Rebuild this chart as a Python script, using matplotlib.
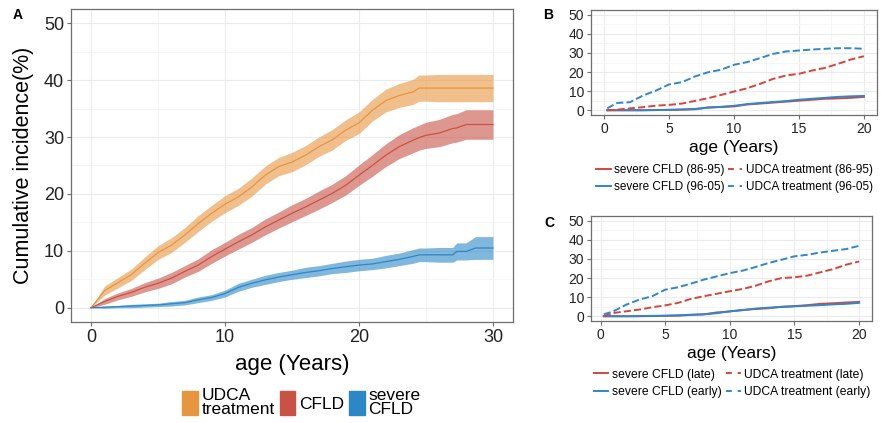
import numpy as np
import matplotlib
matplotlib.use("Agg")
import matplotlib.pyplot as plt
from matplotlib.patches import Patch
from matplotlib.lines import Line2D
from matplotlib.ticker import MultipleLocator

plt.rcParams['font.family'] = ['Liberation Sans', 'DejaVu Sans']

# ---- Panel A data (cumulative incidence %, with CI half-widths) ----
age_a = [0, 1, 2, 3, 4, 5, 6, 7, 8, 9, 10, 11, 12, 13, 14, 15, 16, 17, 18, 19,
         20, 21, 22, 23, 24, 24.5, 25, 26, 27, 27.3, 28, 28.7, 29, 30]
udca = [0, 3.0, 4.4, 5.8, 7.8, 9.7, 11.0, 12.8, 14.8, 16.6, 18.2, 19.5, 21.2, 23.3, 24.8, 25.6, 26.8, 28.3, 29.5, 31.2,
        32.5, 34.7, 36.4, 37.3, 37.9, 38.6, 38.6, 38.6, 38.6, 38.6, 38.6, 38.6, 38.6, 38.6]
udca_ci = [0, 0.8, 0.9, 1.0, 1.1, 1.2, 1.3, 1.3, 1.4, 1.4, 1.5, 1.5, 1.6, 1.6, 1.6, 1.7, 1.7, 1.7, 1.8, 1.8,
           1.9, 1.9, 2.0, 2.1, 2.2, 2.3, 2.3, 2.4, 2.4, 2.4, 2.4, 2.4, 2.4, 2.4]
cfld = [0, 1.1, 2.0, 2.7, 3.6, 4.3, 5.2, 6.4, 7.5, 9.0, 10.3, 11.6, 12.8, 14.2, 15.4, 16.6, 17.7, 18.9, 20.1, 21.5,
        23.3, 25.0, 26.8, 28.3, 29.4, 29.9, 30.3, 30.7, 31.5, 31.6, 32.2, 32.2, 32.2, 32.2]
cfld_ci = [0, 0.5, 0.6, 0.7, 0.8, 0.9, 1.0, 1.0, 1.1, 1.2, 1.2, 1.3, 1.3, 1.4, 1.4, 1.5, 1.5, 1.6, 1.6, 1.7,
           1.8, 1.9, 2.0, 2.1, 2.2, 2.2, 2.3, 2.4, 2.5, 2.5, 2.6, 2.6, 2.6, 2.6]
severe = [0, 0.1, 0.2, 0.3, 0.4, 0.5, 0.7, 0.9, 1.4, 1.8, 2.5, 3.6, 4.3, 4.9, 5.4, 5.8, 6.2, 6.5, 6.9, 7.2,
          7.5, 7.7, 8.1, 8.5, 9.0, 9.3, 9.3, 9.3, 9.3, 9.9, 9.9, 10.5, 10.5, 10.5]
severe_ci = [0, 0.2, 0.2, 0.3, 0.3, 0.3, 0.4, 0.4, 0.5, 0.5, 0.6, 0.7, 0.7, 0.8, 0.8, 0.8, 0.9, 0.9, 0.9, 1.0,
             1.0, 1.0, 1.1, 1.1, 1.2, 1.2, 1.2, 1.3, 1.3, 1.5, 1.5, 2.0, 2.0, 2.0]

# ---- Panel B data (by period) ----
age_bc = [0.25, 1, 2, 3, 4, 5, 6, 7, 8, 9, 10, 11, 12, 13, 14, 15, 16, 17, 18, 19, 20]
b_udca_early_per = [0, 0.3, 1.0, 1.6, 2.4, 2.8, 3.5, 4.9, 6.3, 8.0, 9.8, 11.5, 13.8, 16.4, 18.2, 19.1, 20.8, 22.2, 24.3, 26.6, 28.3]
b_udca_late_per = [1.0, 3.8, 4.2, 7.7, 10.3, 13.5, 14.7, 17.7, 19.9, 21.2, 23.8, 25.2, 27.3, 29.5, 30.8, 31.3, 31.8, 32.2, 32.5, 32.5, 32.2]
b_sev_early_per = [0, 0, 0, 0, 0.1, 0.2, 0.3, 0.5, 1.5, 1.7, 2.0, 3.0, 3.5, 4.0, 4.5, 5.0, 5.5, 6.0, 6.2, 6.5, 7.0]
b_sev_late_per = [0, 0, 0, 0, 0.1, 0.2, 0.4, 0.7, 1.3, 1.8, 2.3, 3.2, 3.8, 4.3, 4.8, 5.5, 6.0, 6.5, 7.0, 7.3, 7.5]

# ---- Panel C data (by diagnosis age) ----
c_udca_late = [0, 1.7, 2.6, 3.5, 4.7, 5.7, 7.0, 9.1, 10.5, 11.8, 13.1, 14.3, 16.0, 18.3, 20.0, 20.4, 21.3, 23.0, 24.7, 27.0, 28.7]
c_udca_early = [1.0, 2.6, 6.1, 8.7, 10.5, 13.9, 15.2, 17.1, 19.2, 20.9, 22.6, 23.9, 25.8, 27.9, 29.6, 31.4, 32.2, 33.4, 34.3, 35.2, 36.9]
c_sev_late = [0, 0, 0, 0, 0.1, 0.2, 0.3, 0.7, 1.0, 2.0, 2.5, 3.3, 3.8, 4.2, 5.0, 5.3, 5.8, 6.5, 6.8, 7.2, 7.5]
c_sev_early = [0, 0, 0, 0.1, 0.2, 0.3, 0.5, 0.8, 1.0, 1.6, 2.6, 3.2, 4.0, 4.5, 4.8, 5.2, 5.5, 5.8, 6.2, 6.5, 7.0]

ORANGE = '#E8953F'
RED = '#C95244'
BLUE = '#2B87C6'
LRED = '#D6453A'
LBLUE = '#2E88C9'
GRID = '#EBEBEB'
EDGE = '#6E6E6E'


def style_axes(ax, fs):
    ax.grid(True, which='major', color=GRID, lw=0.8)
    ax.grid(True, which='minor', color='#F4F4F4', lw=0.6)
    ax.set_axisbelow(True)
    for s in ax.spines.values():
        s.set_color(EDGE)
        s.set_linewidth(0.9)
    ax.tick_params(which='major', length=3, color=EDGE, labelsize=fs, pad=2, labelcolor='#222222')
    ax.tick_params(which='minor', length=0)


fig = plt.figure(figsize=(8.81, 4.23), dpi=100)

# ---- A ----
ax = fig.add_axes([0.0806, 0.2388, 0.5017, 0.740])
age_a = np.array(age_a)
for vals, ci, col in [(udca, udca_ci, ORANGE), (cfld, cfld_ci, RED), (severe, severe_ci, BLUE)]:
    vals = np.array(vals)
    ci = np.array(ci)
    ax.fill_between(age_a, vals - ci, vals + ci, color=col, alpha=0.6, lw=0)
    ax.plot(age_a, vals, color=col, lw=0.9)
ax.set_xlim(-1.5, 31.5)
ax.set_ylim(-2.5, 52.5)
ax.xaxis.set_major_locator(MultipleLocator(10))
ax.xaxis.set_minor_locator(MultipleLocator(5))
ax.yaxis.set_major_locator(MultipleLocator(10))
ax.yaxis.set_minor_locator(MultipleLocator(5))
style_axes(ax, 13)
ax.set_xlabel('age (Years)', fontsize=16, labelpad=6)
ax.set_ylabel('Cumulative incidence(%)', fontsize=15.5, labelpad=7)
fig.text(0.014, 0.965, 'A', fontsize=10, fontweight='bold', va='center')

handles = [Patch(color=ORANGE), Patch(color=RED), Patch(color=BLUE)]
leg = fig.legend(handles, ['UDCA\ntreatment', 'CFLD', 'severe\nCFLD'], loc='center',
                 bbox_to_anchor=(0.342, 0.048), ncol=3, frameon=False, fontsize=12.5,
                 handlelength=0.9, handleheight=1.7, handletextpad=0.2, columnspacing=0.3,
                 borderpad=0)
for t in leg.get_texts():
    t.set_linespacing(0.95)


def small_panel(rect, series):
    ax = fig.add_axes(rect)
    x = np.array(age_bc)
    for vals, col, ls in series:
        ax.plot(x, vals, color=col, ls=ls, lw=1.4)
    ax.set_xlim(-1.0, 21.0)
    ax.set_ylim(-2.5, 52.5)
    ax.xaxis.set_major_locator(MultipleLocator(5))
    ax.xaxis.set_minor_locator(MultipleLocator(2.5))
    ax.yaxis.set_major_locator(MultipleLocator(10))
    ax.yaxis.set_minor_locator(MultipleLocator(5))
    style_axes(ax, 10)
    ax.set_xlabel('age (Years)', fontsize=12.5, labelpad=3)
    return ax


hb = [Line2D([], [], color=LRED, lw=1.4), Line2D([], [], color=LBLUE, lw=1.4),
      Line2D([], [], color=LRED, lw=1.4, ls=(0, (3, 3))), Line2D([], [], color=LBLUE, lw=1.4, ls=(0, (3, 3)))]

# ---- B ----
axb = small_panel([0.6708, 0.7281, 0.3246, 0.2482],
                  [(b_sev_early_per, LRED, '-'), (b_sev_late_per, LBLUE, '-'),
                   (b_udca_early_per, LRED, '--'), (b_udca_late_per, LBLUE, '--')])
fig.text(0.617, 0.965, 'B', fontsize=10, fontweight='bold', va='center')
fig.legend(hb, ['severe CFLD (86-95)', 'severe CFLD (96-05)', 'UDCA treatment (86-95)', 'UDCA treatment (96-05)'],
           loc='center', bbox_to_anchor=(0.834, 0.578), ncol=2, frameon=False, fontsize=8.5,
           handlelength=1.2, handletextpad=0.3, columnspacing=0.3, labelspacing=0.45, borderpad=0)

# ---- C ----
axc = small_panel([0.6708, 0.2411, 0.319, 0.2482],
                  [(c_sev_late, LRED, '-'), (c_sev_early, LBLUE, '-'),
                   (c_udca_late, LRED, '--'), (c_udca_early, LBLUE, '--')])
axc.set_xlim(-0.74, 21.0)
fig.text(0.618, 0.472, 'C', fontsize=10, fontweight='bold', va='center')
fig.legend(hb, ['severe CFLD (late)', 'severe CFLD (early)', 'UDCA treatment (late)', 'UDCA treatment (early)'],
           loc='center', bbox_to_anchor=(0.831, 0.094), ncol=2, frameon=False, fontsize=8.7,
           handlelength=1.2, handletextpad=0.3, columnspacing=0.4, labelspacing=0.45, borderpad=0)

fig.savefig('out.png', dpi=100)
